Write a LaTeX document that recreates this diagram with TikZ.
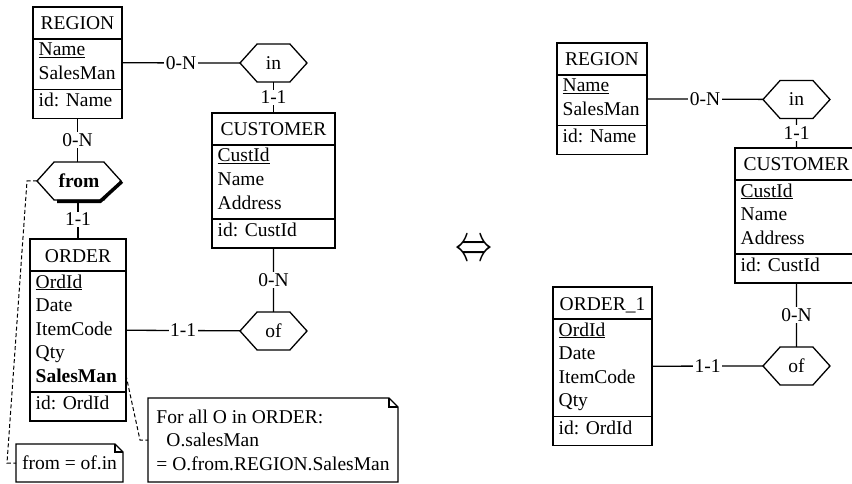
\documentclass[tikz,border=0pt]{standalone}
\usepackage{fontspec}
\setmainfont{Liberation Serif}
\usetikzlibrary{shapes.symbols,positioning}

\tikzset{
  entity/.style={draw, line width=1.3pt, outer sep=0pt, inner sep=0pt, anchor=north west},
  enttitle/.style={anchor=base, inner sep=0pt},
  attr/.style={anchor=base west, inner sep=0pt},
  rel/.style={draw, line width=1.3pt, signal, signal to=west and east, signal pointer angle=96,
    minimum height=38pt, inner sep=0pt, outer sep=0pt},
  card/.style={fill=white, inner sep=1.5pt},
  note/.style={inner sep=0pt, outer sep=0pt, align=left, anchor=north west},
  link/.style={line width=1.3pt},
  noteline/.style={dashed, dash pattern=on 4pt off 2.5pt, line width=1pt},
}

% entity box: name, north west corner, width, number of attributes, title, attributes, identifier
\newcommand{\erentity}[7]{%
  \pgfmathsetmacro\enth{88+23.5*(#4-1)}%
  \node[entity, minimum width=#3pt, minimum height=\enth pt] (#1) at #2 {};
  \node[enttitle] (#1-title) at ([yshift=-23pt]#1.north) {#5};
  \draw[link] ([yshift=-32pt]#1.north west) -- ([yshift=-32pt]#1.north east);
  \foreach \att [count=\i] in {#6} {
    \pgfmathsetmacro\atty{49+23.5*(\i-1)}
    \node[attr] (#1-a\i) at ([xshift=5.5pt,yshift=-\atty pt]#1.north west) {\att};
  }
  \pgfmathsetmacro\sepy{59+23.5*(#4-1)}%
  \draw[link] ([yshift=-\sepy pt]#1.north west) -- ([yshift=-\sepy pt]#1.north east);
  \node[attr] (#1-id) at ([xshift=5.5pt,yshift=-\sepy pt-17.5pt]#1.north west) {#7};
}

\begin{document}
\begin{tikzpicture}[x=1pt, y=-1pt, font=\fontsize{19.5}{23.5}\selectfont]
  \useasboundingbox (0,0) rectangle (852,484);

  % left schema
  \erentity{regL}{(33,7)}{89}{2}{REGION}{\underline{Name},SalesMan}{id: Name}
  \erentity{custL}{(212,113)}{123}{3}{CUSTOMER}{\underline{CustId},Name,Address}{id: CustId}
  \erentity{ordL}{(30,239)}{96}{5}{ORDER}{\underline{OrdId},Date,ItemCode,Qty,\textbf{SalesMan}}{id: OrdId}

  \node[rel, minimum width=67pt] (inL) at (273.5,63) {in};
  \node[rel, minimum width=84pt] (fromL) at (79,181) {\textbf{from}};
  \node[rel, minimum width=67pt] (ofL) at (273.5,331) {of};
  \draw[line width=3.5pt] ([xshift=-22pt,yshift=-1.5pt]fromL.south) -- ([xshift=21pt,yshift=-1.5pt]fromL.south)
    -- ([xshift=1pt,yshift=-0.5pt]fromL.east);

  \draw[link] (regL) -- node[card]{0-N} (inL);
  \draw[link] (regL.south) -- node[card]{0-N} (regL.south |- fromL.north);
  \draw[link] (fromL.south -| ordL.north) -- node[card]{1-1} (ordL.north);
  \draw[link] (inL) -- node[card]{1-1} (custL);
  \draw[link] (custL) -- node[card]{0-N} (ofL);
  \draw[link] (ordL) -- node[card]{1-1} (ofL);

  % notes
  \node[note, minimum width=107pt, minimum height=38pt, align=center] (eqnote) at (16,444) {from = of.in};
  \draw[link] (eqnote.north west) -- ([xshift=-8pt]eqnote.north east) -- ([yshift=-8pt]eqnote.north east)
    -- (eqnote.south east) -- (eqnote.south west) -- cycle;
  \draw[link] ([xshift=-8pt]eqnote.north east) |- ([yshift=-8pt]eqnote.north east);

  \node[note, minimum width=250pt, minimum height=84pt] (rulenote) at (148,398)
    {For all O in ORDER:\\\hspace*{10pt}O.salesMan\\= O.from.REGION.SalesMan};
  \draw[link] (rulenote.north west) -- ([xshift=-9pt]rulenote.north east) -- ([yshift=-9pt]rulenote.north east)
    -- (rulenote.south east) -- (rulenote.south west) -- cycle;
  \draw[link] ([xshift=-9pt]rulenote.north east) |- ([yshift=-9pt]rulenote.north east);

  \draw[noteline] (fromL.west) -- ++(-10pt,0) -- ([xshift=-9pt]eqnote.west) -- (eqnote.west);
  \draw[noteline] (ordL.east |- ordL-a5.center) -- ([xshift=-8pt]rulenote.west) -- (rulenote.west);

  \node (equiv) at (473.5,251) {\resizebox{37pt}{19pt}{$\Leftrightarrow$}};

  % right schema
  \erentity{regR}{(557,43)}{90}{2}{REGION}{\underline{Name},SalesMan}{id: Name}
  \erentity{custR}{(735,148)}{123}{3}{CUSTOMER}{\underline{CustId},Name,Address}{id: CustId}
  \erentity{ordR}{(553,287)}{99}{4}{ORDER\_1}{\underline{OrdId},Date,ItemCode,Qty}{id: OrdId}

  \node[rel, minimum width=67pt] (inR) at (796.5,99.5) {in};
  \node[rel, minimum width=67pt] (ofR) at (796.5,366) {of};

  \draw[link] (regR) -- node[card]{0-N} (inR);
  \draw[link] (inR) -- node[card]{1-1} (custR);
  \draw[link] (custR) -- node[card]{0-N} (ofR);
  \draw[link] (ordR) -- node[card]{1-1} (ofR);
\end{tikzpicture}
\end{document}
